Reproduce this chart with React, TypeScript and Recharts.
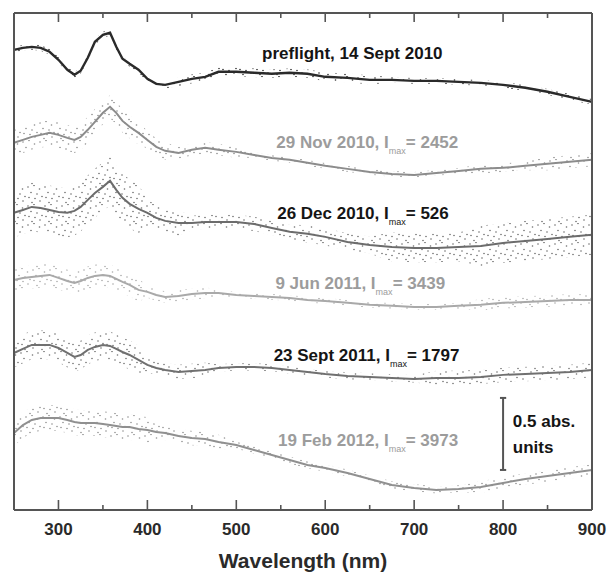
import React from 'react';
import { ComposedChart, Line, Area, XAxis, YAxis, ReferenceDot, ReferenceLine } from 'recharts';

// wavelength grid (nm) shared by all spectra
const wavelengths = [250, 260, 270, 280, 290, 300, 310, 318, 325, 333, 341, 350, 358, 365, 372, 380, 390, 400, 410, 420, 435, 450, 465, 480, 500, 520, 540, 560, 580, 600, 625, 650, 675, 700, 725, 750, 775, 800, 825, 850, 875, 900];

// offset absorbance of each spectrum (abs. units)
const preflight = [3.194, 3.208, 3.215, 3.208, 3.181, 3.125, 3.056, 3.021, 3.049, 3.139, 3.25, 3.299, 3.313, 3.215, 3.132, 3.097, 3.056, 2.993, 2.958, 2.951, 2.972, 2.993, 3.007, 3.042, 3.042, 3.035, 3.028, 3.035, 3.028, 3.007, 3.0, 2.986, 2.986, 2.979, 2.979, 2.972, 2.965, 2.951, 2.931, 2.903, 2.868, 2.833];
const nov2010 = [2.549, 2.569, 2.59, 2.604, 2.618, 2.604, 2.583, 2.569, 2.59, 2.639, 2.694, 2.757, 2.799, 2.757, 2.701, 2.66, 2.618, 2.569, 2.521, 2.493, 2.479, 2.5, 2.514, 2.5, 2.486, 2.465, 2.444, 2.431, 2.41, 2.389, 2.368, 2.347, 2.333, 2.326, 2.34, 2.354, 2.368, 2.375, 2.389, 2.403, 2.417, 2.431];
const dec2010 = [2.063, 2.083, 2.104, 2.097, 2.083, 2.069, 2.063, 2.076, 2.104, 2.153, 2.201, 2.243, 2.285, 2.222, 2.167, 2.125, 2.09, 2.063, 2.028, 2.007, 1.993, 1.993, 2.0, 2.0, 2.0, 1.986, 1.958, 1.931, 1.917, 1.896, 1.861, 1.84, 1.826, 1.819, 1.819, 1.826, 1.833, 1.854, 1.868, 1.882, 1.896, 1.91];
const jun2011 = [1.597, 1.611, 1.618, 1.625, 1.632, 1.611, 1.59, 1.576, 1.59, 1.611, 1.625, 1.632, 1.625, 1.604, 1.583, 1.563, 1.528, 1.514, 1.493, 1.479, 1.486, 1.5, 1.507, 1.507, 1.493, 1.486, 1.479, 1.472, 1.458, 1.451, 1.438, 1.424, 1.417, 1.41, 1.41, 1.417, 1.424, 1.438, 1.444, 1.451, 1.458, 1.458];
const sept2011 = [1.09, 1.118, 1.146, 1.146, 1.146, 1.125, 1.09, 1.063, 1.076, 1.111, 1.132, 1.146, 1.139, 1.118, 1.097, 1.076, 1.042, 1.007, 0.986, 0.972, 0.958, 0.965, 0.972, 0.986, 0.993, 0.993, 0.986, 0.972, 0.958, 0.944, 0.931, 0.924, 0.917, 0.91, 0.917, 0.917, 0.924, 0.938, 0.944, 0.951, 0.958, 0.972];
const feb2012 = [0.535, 0.59, 0.625, 0.639, 0.639, 0.639, 0.625, 0.611, 0.604, 0.604, 0.604, 0.597, 0.59, 0.583, 0.576, 0.576, 0.563, 0.556, 0.542, 0.535, 0.514, 0.5, 0.493, 0.472, 0.451, 0.417, 0.382, 0.347, 0.313, 0.292, 0.257, 0.215, 0.174, 0.153, 0.139, 0.146, 0.16, 0.188, 0.215, 0.236, 0.257, 0.278];

// half-width of the point scatter around each spectrum (abs. units)
const preflightSpread = [0.02, 0.02, 0.02, 0.02, 0.02, 0.02, 0.02, 0.02, 0.02, 0.02, 0.02, 0.02, 0.02, 0.02, 0.02, 0.02, 0.02, 0.02, 0.02, 0.025, 0.03, 0.03, 0.03, 0.03, 0.03, 0.03, 0.03, 0.03, 0.03, 0.03, 0.03, 0.03, 0.02, 0.02, 0.02, 0.02, 0.02, 0.02, 0.02, 0.02, 0.02, 0.02];
const nov2010Spread = [0.09, 0.09, 0.09, 0.09, 0.09, 0.09, 0.09, 0.09, 0.09, 0.09, 0.09, 0.08, 0.08, 0.08, 0.08, 0.08, 0.08, 0.06, 0.06, 0.06, 0.04, 0.04, 0.04, 0.04, 0.04, 0.02, 0.02, 0.02, 0.02, 0.02, 0.02, 0.02, 0.02, 0.02, 0.02, 0.02, 0.03, 0.03, 0.03, 0.045, 0.045, 0.045];
const dec2010Spread = [0.17, 0.17, 0.17, 0.17, 0.17, 0.17, 0.17, 0.17, 0.17, 0.17, 0.17, 0.17, 0.17, 0.17, 0.17, 0.17, 0.17, 0.09, 0.09, 0.09, 0.09, 0.05, 0.05, 0.05, 0.05, 0.05, 0.05, 0.05, 0.06, 0.06, 0.06, 0.06, 0.1, 0.1, 0.1, 0.1, 0.14, 0.14, 0.14, 0.14, 0.14, 0.14];
const jun2011Spread = [0.08, 0.08, 0.08, 0.08, 0.08, 0.08, 0.08, 0.08, 0.08, 0.08, 0.08, 0.08, 0.08, 0.08, 0.08, 0.08, 0.08, 0.04, 0.04, 0.04, 0.04, 0.04, 0.04, 0.02, 0.02, 0.02, 0.02, 0.02, 0.02, 0.02, 0.02, 0.02, 0.02, 0.02, 0.02, 0.02, 0.04, 0.04, 0.04, 0.04, 0.04, 0.04];
const sept2011Spread = [0.1, 0.1, 0.1, 0.1, 0.1, 0.1, 0.1, 0.1, 0.1, 0.1, 0.1, 0.1, 0.1, 0.1, 0.1, 0.1, 0.1, 0.05, 0.05, 0.05, 0.05, 0.05, 0.05, 0.025, 0.025, 0.025, 0.025, 0.025, 0.025, 0.025, 0.025, 0.025, 0.025, 0.025, 0.05, 0.05, 0.05, 0.05, 0.05, 0.05, 0.05, 0.05];
const feb2012Spread = [0.09, 0.09, 0.09, 0.09, 0.09, 0.09, 0.09, 0.09, 0.09, 0.09, 0.09, 0.09, 0.09, 0.09, 0.09, 0.09, 0.09, 0.09, 0.05, 0.05, 0.05, 0.05, 0.05, 0.05, 0.025, 0.025, 0.025, 0.025, 0.025, 0.025, 0.025, 0.025, 0.025, 0.025, 0.025, 0.025, 0.04, 0.04, 0.04, 0.04, 0.04, 0.04];

const labelTexts = ['preflight, 14 Sept 2010', '29 Nov 2010, I', '26 Dec 2010, I', '9 Jun 2011, I', '23 Sept 2011, I', '19 Feb 2012, I'];
const imaxValues = ['', '2452', '526', '3439', '1797', '3973'];
const xTicks = [300, 350, 400, 450, 500, 550, 600, 650, 700, 750, 800, 850, 900];

const FONT = '"Liberation Sans", Arial, sans-serif';
const PLOT_TOP = 13;
const PLOT_BOTTOM = 510;

const series = [
  { values: preflight, spread: preflightSpread, line: '#2a2a2a', width: 2.4, label: '#151515', lx: 529, ly: 3.132 },
  { values: nov2010, spread: nov2010Spread, line: '#8c8c8c', width: 2, label: '#9c9c9c', lx: 545, ly: 2.514 },
  { values: dec2010, spread: dec2010Spread, line: '#6c6c6c', width: 2, label: '#151515', lx: 546, ly: 2.021 },
  { values: jun2011, spread: jun2011Spread, line: '#a9a9a9', width: 2, label: '#9c9c9c', lx: 544, ly: 1.535 },
  { values: sept2011, spread: sept2011Spread, line: '#707070', width: 2, label: '#151515', lx: 542, ly: 1.035 },
  { values: feb2012, spread: feb2012Spread, line: '#909090', width: 2, label: '#9c9c9c', lx: 547, ly: 0.444 },
];

const rows = wavelengths.map((wl, i) => {
  const row: Record<string, number | number[]> = { wl };
  series.forEach((s, k) => {
    row[`v${k}`] = s.values[i];
    row[`b${k}`] = [s.values[i] - s.spread[i], s.values[i] + s.spread[i]];
  });
  return row;
});

const BottomTick = (props: any) => {
  const { x, payload } = props;
  const major = payload.value % 100 === 0;
  return (
    <g>
      <line x1={x} x2={x} y1={PLOT_BOTTOM} y2={PLOT_BOTTOM - (major ? 10 : 5)} stroke="#555" strokeWidth={1.6} />
      {major && (
        <text x={x} y={PLOT_BOTTOM + 25} textAnchor="middle" fontFamily={FONT} fontWeight="bold" fontSize={17} fill="#2a2a2a">
          {payload.value}
        </text>
      )}
    </g>
  );
};

const TopTick = (props: any) => {
  const { x, payload } = props;
  const major = payload.value % 100 === 0;
  return <line x1={x} x2={x} y1={PLOT_TOP} y2={PLOT_TOP + (major ? 9 : 5)} stroke="#555" strokeWidth={1.6} />;
};

const SeriesLabel = (text: string, imax: string, color: string) => (p: any) => (
  <text x={p.cx} y={p.cy} fontFamily={FONT} fontWeight="bold" fontSize={17} fill={color}>
    {text}
    {imax && (
      <>
        <tspan fontSize={9} fontWeight="normal" dy={6}>max</tspan>
        <tspan dy={-6}>{`= ${imax}`}</tspan>
      </>
    )}
  </text>
);

const PlainLabel = (text: string) => (p: any) => (
  <text x={p.cx} y={p.cy} fontFamily={FONT} fontWeight="bold" fontSize={17} fill="#151515">
    {text}
  </text>
);

// speckle texture used to show the scatter of measured points
const speckle = [
  [1, 2], [7, 0.5], [12.5, 4], [4, 7.5], [10, 9], [15, 11.5], [2, 12.5], [8, 13.5], [13, 16], [5, 17.5],
];

export default function App() {
  return (
    <div style={{ position: 'fixed', left: 0, top: 0, width: 608, height: 573, background: '#fff' }}>
      <ComposedChart width={608} height={573} data={rows} margin={{ top: 0, right: 0, bottom: 0, left: 0 }}>
        <defs>
          {series.map((s, k) => (
            <pattern
              key={k}
              id={`dots${k}`}
              width={17}
              height={19}
              patternUnits="userSpaceOnUse"
              patternTransform={`translate(${k * 5} ${k * 7})`}
            >
              {speckle.map(([dx, dy], j) => (
                <circle key={j} cx={dx} cy={dy} r={0.8} fill={s.line} />
              ))}
            </pattern>
          ))}
        </defs>
        <XAxis
          xAxisId="b"
          type="number"
          dataKey="wl"
          domain={[250, 900]}
          ticks={xTicks}
          interval={0}
          height={63}
          axisLine={{ stroke: '#555', strokeWidth: 2 }}
          tickLine={false}
          tick={<BottomTick />}
          label={{
            content: (p: any) => (
              <text
                x={p.viewBox.x + p.viewBox.width / 2}
                y={PLOT_BOTTOM + 58}
                textAnchor="middle"
                fontFamily={FONT}
                fontWeight="bold"
                fontSize={21}
                fill="#2a2a2a"
              >
                Wavelength (nm)
              </text>
            ),
          }}
        />
        <XAxis
          xAxisId="t"
          orientation="top"
          type="number"
          dataKey="wl"
          domain={[250, 900]}
          ticks={xTicks}
          interval={0}
          height={13}
          axisLine={{ stroke: '#555', strokeWidth: 2 }}
          tickLine={false}
          tick={<TopTick />}
        />
        <YAxis yAxisId="l" type="number" domain={[0, 3.45]} width={14} tick={false} tickLine={false} axisLine={{ stroke: '#555', strokeWidth: 2 }} />
        <YAxis yAxisId="r" orientation="right" type="number" domain={[0, 3.45]} width={16} tick={false} tickLine={false} axisLine={{ stroke: '#555', strokeWidth: 2 }} />
        {series.map((s, k) => (
          <Area
            key={`band${k}`}
            xAxisId="b"
            yAxisId="l"
            type="linear"
            dataKey={`b${k}`}
            stroke="none"
            fill={`url(#dots${k})`}
            fillOpacity={1}
            dot={false}
            activeDot={false}
            isAnimationActive={false}
          />
        ))}
        {series.map((s, k) => (
          <Line
            key={`line${k}`}
            xAxisId="b"
            yAxisId="l"
            type="linear"
            dataKey={`v${k}`}
            stroke={s.line}
            strokeWidth={s.width}
            dot={false}
            activeDot={false}
            isAnimationActive={false}
          />
        ))}
        {series.map((s, k) => (
          <ReferenceDot
            key={`lab${k}`}
            xAxisId="b"
            yAxisId="l"
            x={s.lx}
            y={s.ly}
            r={0}
            shape={SeriesLabel(labelTexts[k], imaxValues[k], s.label)}
          />
        ))}
        <ReferenceLine xAxisId="b" yAxisId="l" segment={[{ x: 800, y: 0.278 }, { x: 800, y: 0.778 }]} stroke="#555" strokeWidth={2} />
        <ReferenceLine xAxisId="b" yAxisId="l" segment={[{ x: 796.5, y: 0.778 }, { x: 803.5, y: 0.778 }]} stroke="#555" strokeWidth={2} />
        <ReferenceLine xAxisId="b" yAxisId="l" segment={[{ x: 796.5, y: 0.278 }, { x: 803.5, y: 0.278 }]} stroke="#555" strokeWidth={2} />
        <ReferenceDot xAxisId="b" yAxisId="l" x={811} y={0.576} r={0} shape={PlainLabel('0.5 abs.')} />
        <ReferenceDot xAxisId="b" yAxisId="l" x={811} y={0.396} r={0} shape={PlainLabel('units')} />
      </ComposedChart>
    </div>
  );
}
